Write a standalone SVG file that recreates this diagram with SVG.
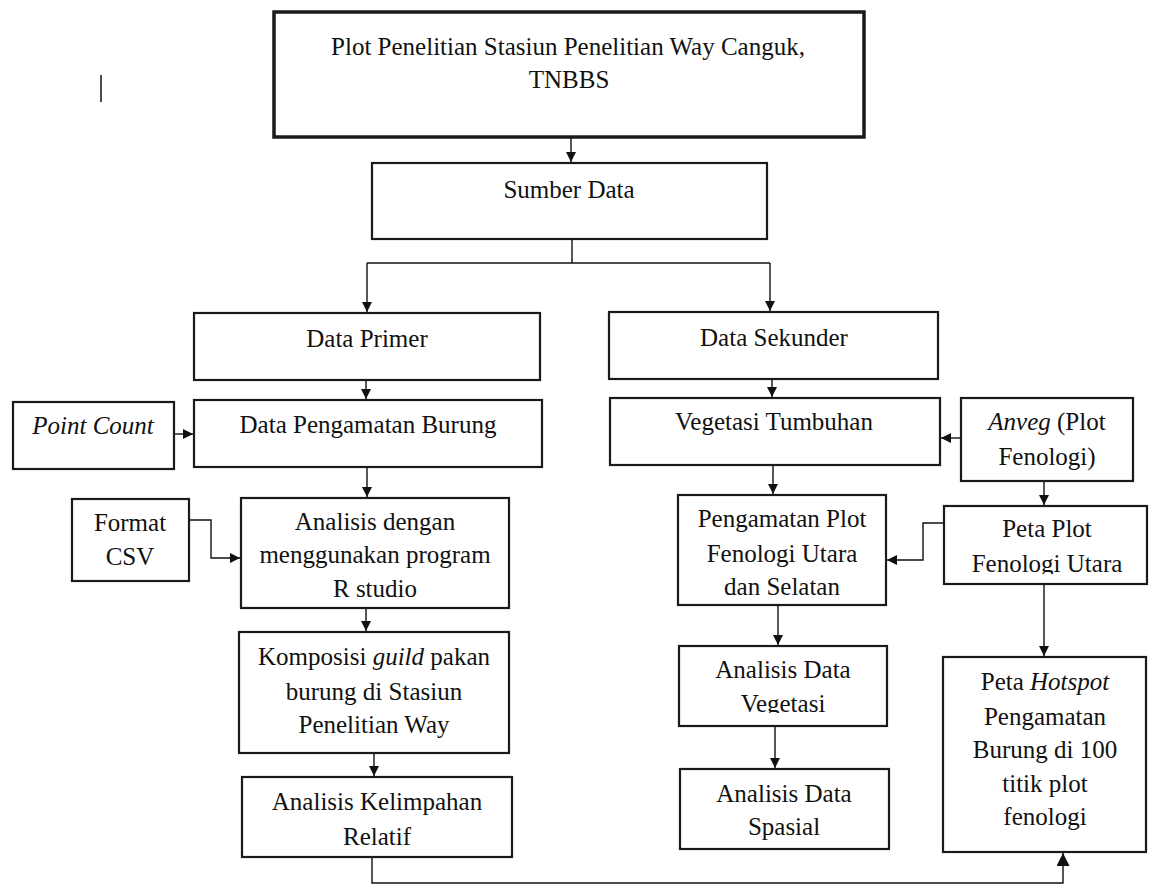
<svg xmlns="http://www.w3.org/2000/svg" width="1149" height="884" viewBox="0 0 1149 884">
<style>
.box{fill:#fff;stroke:#1a1a1a;stroke-width:2.2}
.thick{stroke-width:3.5}
.t{font-family:"Liberation Serif","Times New Roman",serif;font-size:25px;fill:#111;text-anchor:middle}
.i{font-style:italic}
.ln{fill:none;stroke:#111;stroke-width:1.4}
</style>
<defs>
<marker id="ah" markerUnits="userSpaceOnUse" viewBox="0 0 10 10" refX="10" refY="5" markerWidth="12" markerHeight="10" orient="auto"><path d="M0,0 L10,5 L0,10 z" fill="#111"/></marker>
<marker id="ahb" markerUnits="userSpaceOnUse" viewBox="0 0 10 10" refX="10" refY="5" markerWidth="14" markerHeight="13" orient="auto"><path d="M0,0 L10,5 L0,10 z" fill="#111"/></marker>
<clipPath id="cpPeta"><rect x="944" y="506" width="205" height="68"/></clipPath>
<clipPath id="cpVeg"><rect x="679" y="646" width="208" height="67"/></clipPath>
</defs>

<line x1="101" y1="75" x2="101" y2="102" stroke="#111" stroke-width="1.5"/>

<g id="n-plot">
<rect class="box thick" x="274" y="12" width="590" height="125"/>
<text class="t" x="568" y="55">Plot Penelitian Stasiun Penelitian Way Canguk,</text>
<text class="t" x="569" y="88">TNBBS</text>
</g>

<g id="n-sumber">
<rect class="box" x="372" y="163" width="395" height="76"/>
<text class="t" x="569" y="198">Sumber Data</text>
</g>

<g id="n-primer">
<rect class="box" x="194" y="313" width="346" height="67"/>
<text class="t" x="367" y="347">Data Primer</text>
</g>

<g id="n-sekunder">
<rect class="box" x="609" y="312" width="329" height="67"/>
<text class="t" x="774" y="346">Data Sekunder</text>
</g>

<g id="n-pointcount">
<rect class="box" x="13" y="402" width="161" height="67"/>
<text class="t i" x="93" y="434">Point Count</text>
</g>

<g id="n-burung">
<rect class="box" x="194" y="400" width="348" height="67"/>
<text class="t" x="368" y="433">Data Pengamatan Burung</text>
</g>

<g id="n-vegetasi">
<rect class="box" x="610" y="398" width="330" height="67"/>
<text class="t" x="774" y="430">Vegetasi Tumbuhan</text>
</g>

<g id="n-anveg">
<rect class="box" x="961" y="398" width="172" height="83"/>
<text class="t" x="1047" y="430"><tspan class="i">Anveg</tspan> (Plot</text>
<text class="t" x="1047" y="465">Fenologi)</text>
</g>

<g id="n-csv">
<rect class="box" x="72" y="499" width="117" height="82"/>
<text class="t" x="130" y="531">Format</text>
<text class="t" x="130" y="565">CSV</text>
</g>

<g id="n-analisis">
<rect class="box" x="241" y="498" width="268" height="110"/>
<text class="t" x="375" y="530">Analisis dengan</text>
<text class="t" x="375" y="563">menggunakan program</text>
<text class="t" x="375" y="597">R studio</text>
</g>

<g id="n-pengamatanplot">
<rect class="box" x="678" y="495" width="208" height="110"/>
<text class="t" x="782" y="527">Pengamatan Plot</text>
<text class="t" x="782" y="562">Fenologi Utara</text>
<text class="t" x="782" y="595">dan Selatan</text>
</g>

<g id="n-petaplot">
<rect class="box" x="944" y="506" width="203" height="78"/>
<text class="t" x="1047" y="537">Peta Plot</text>
<text class="t" x="1047" y="572" clip-path="url(#cpPeta)">Fenologi Utara</text>
</g>

<g id="n-komposisi">
<rect class="box" x="239" y="632" width="270" height="121"/>
<text class="t" x="374" y="665">Komposisi <tspan class="i">guild</tspan> pakan</text>
<text class="t" x="374" y="700">burung di Stasiun</text>
<text class="t" x="374" y="733">Penelitian Way</text>
</g>

<g id="n-kelimpahan">
<rect class="box" x="242" y="777" width="270" height="80"/>
<text class="t" x="377" y="810">Analisis Kelimpahan</text>
<text class="t" x="377" y="845">Relatif</text>
</g>

<g id="n-anveg-data">
<rect class="box" x="679" y="646" width="208" height="80"/>
<text class="t" x="783" y="678">Analisis Data</text>
<text class="t" x="783" y="712" clip-path="url(#cpVeg)">Vegetasi</text>
</g>

<g id="n-spasial">
<rect class="box" x="680" y="769" width="209" height="80"/>
<text class="t" x="784" y="802">Analisis Data</text>
<text class="t" x="784" y="835">Spasial</text>
</g>

<g id="n-hotspot">
<rect class="box" x="943" y="657" width="203" height="195"/>
<text class="t" x="1045" y="690">Peta <tspan class="i">Hotspot</tspan></text>
<text class="t" x="1045" y="725">Pengamatan</text>
<text class="t" x="1045" y="758">Burung di 100</text>
<text class="t" x="1045" y="792">titik plot</text>
<text class="t" x="1045" y="825">fenologi</text>
</g>

<g id="connectors">
<path class="ln" d="M571,138 V162" marker-end="url(#ah)"/>
<path class="ln" d="M572,240 V263 M367,263 H770"/>
<path class="ln" d="M367,263 V312" marker-end="url(#ah)"/>
<path class="ln" d="M770,263 V311" marker-end="url(#ah)"/>
<path class="ln" d="M366,381 V399" marker-end="url(#ah)"/>
<path class="ln" d="M175,434 H193" marker-end="url(#ah)"/>
<path class="ln" d="M367,468 V497" marker-end="url(#ah)"/>
<path class="ln" d="M189,520 H211 V558 H240" marker-end="url(#ah)"/>
<path class="ln" d="M366,609 V631" marker-end="url(#ah)"/>
<path class="ln" d="M374,754 V776" marker-end="url(#ah)"/>
<path class="ln" d="M372,858 V883 H1063 V853" marker-end="url(#ahb)"/>
<path class="ln" d="M772,380 V397" marker-end="url(#ah)"/>
<path class="ln" d="M960,438 H941" marker-end="url(#ah)"/>
<path class="ln" d="M773,466 V494" marker-end="url(#ah)"/>
<path class="ln" d="M1044,482 V505" marker-end="url(#ah)"/>
<path class="ln" d="M943,523 H923 V560 H887" marker-end="url(#ah)"/>
<path class="ln" d="M778,606 V645" marker-end="url(#ah)"/>
<path class="ln" d="M775,727 V768" marker-end="url(#ah)"/>
<path class="ln" d="M1044,585 V656" marker-end="url(#ah)"/>
</g>
</svg>
